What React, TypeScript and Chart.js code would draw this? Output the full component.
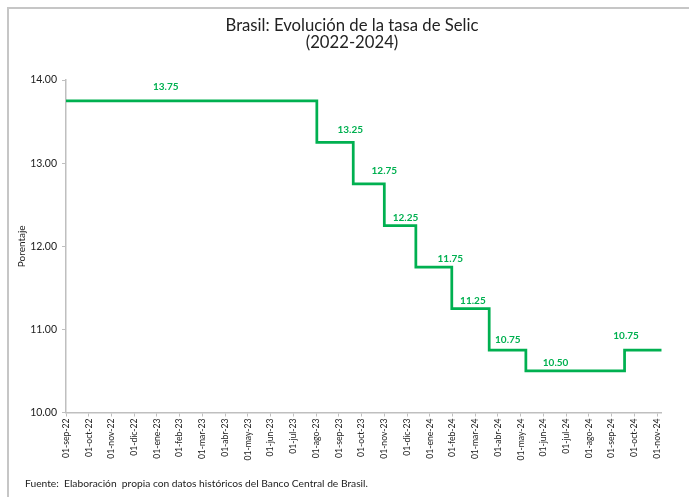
import { useEffect, useRef } from "react";
import { Chart, registerables } from "chart.js";

Chart.register(...registerables);

// Monthly axis labels (first day of each month)
const tickLabels = [
  "01-sep-22", "01-oct-22", "01-nov-22", "01-dic-22", "01-ene-23", "01-feb-23",
  "01-mar-23", "01-abr-23", "01-may-23", "01-jun-23", "01-jul-23", "01-ago-23",
  "01-sep-23", "01-oct-23", "01-nov-23", "01-dic-23", "01-ene-24", "01-feb-24",
  "01-mar-24", "01-abr-24", "01-may-24", "01-jun-24", "01-jul-24", "01-ago-24",
  "01-sep-24", "01-oct-24", "01-nov-24",
];

// Dates on which a new Selic rate took effect, and the rate from that date
const changeDates = [
  "2022-09-01", "2023-08-02", "2023-09-20", "2023-11-01", "2023-12-13",
  "2024-01-31", "2024-03-20", "2024-05-08", "2024-09-18",
];
const selicRates = [13.75, 13.25, 12.75, 12.25, 11.75, 11.25, 10.75, 10.5, 10.75];

// Last day covered by the series
const seriesEnd = "2024-11-07";

// Where each rate's value label sits along the time axis
const labelDates = [
  "2023-01-13", "2023-09-16", "2023-11-01", "2023-11-29", "2024-01-29",
  "2024-02-27", "2024-04-14", "2024-06-17", "2024-09-20",
];

const title = ["Brasil: Evolución de la tasa de Selic", "(2022-2024)"];
const yTitle = "Porentaje";
const source = "Fuente:  Elaboración  propia con datos históricos del Banco Central de Brasil.";

// ---- styling ----
const GREEN = "#00b050";
const TEXT = "#222222";
const AXIS = "#bfbfbf";
const FONT = "Lato, 'Open Sans', sans-serif";
const labelLift = [14, 13, 13, 8, 8, 8, 10, 8, 14];

// Month offset from September 2022, fractional within the month
function monthPos(iso: string): number {
  const [yy, mm, dd] = iso.split("-").map(Number);
  const daysInMonth = new Date(yy, mm, 0).getDate();
  return (yy - 2022) * 12 + (mm - 9) + (dd - 1) / daysInMonth;
}

const rateLabels = {
  id: "rateLabels",
  afterDatasetsDraw(chart: any) {
    const { ctx, scales } = chart;
    const xs = scales.x;
    const ys = scales.y;
    ctx.save();
    ctx.font = `bold 10px ${FONT}`;
    ctx.fillStyle = GREEN;
    ctx.textAlign = "center";
    ctx.textBaseline = "middle";
    selicRates.forEach((r, i) => {
      ctx.fillText(
        r.toFixed(2),
        xs.getPixelForValue(monthPos(labelDates[i])),
        ys.getPixelForValue(r) - labelLift[i]
      );
    });
    ctx.restore();
  },
};

export default function App() {
  const canvasRef = useRef<HTMLCanvasElement | null>(null);

  useEffect(() => {
    let chart: Chart | null = null;
    let cancelled = false;

    const build = () => {
      if (cancelled || !canvasRef.current) return;
      const points = changeDates.map((d, i) => ({ x: monthPos(d), y: selicRates[i] }));
      points.push({ x: monthPos(seriesEnd), y: selicRates[selicRates.length - 1] });

      chart = new Chart(canvasRef.current, {
        type: "line",
        data: {
          datasets: [
            {
              data: points,
              borderColor: GREEN,
              borderWidth: 2.75,
              stepped: "before",
              pointRadius: 0,
              fill: false,
              yAxisID: "y",
            },
          ],
        },
        options: {
          animation: false,
          responsive: false,
          devicePixelRatio: 1,
          layout: { padding: { left: 16, right: 1, top: 0, bottom: 0 } },
          plugins: {
            legend: { display: false },
            tooltip: { enabled: false },
            title: {
              display: true,
              text: title,
              color: TEXT,
              font: { family: FONT, size: 16.7, weight: "normal", lineHeight: 0.99 },
              padding: { top: 17.75, bottom: 29.25 },
            },
          },
          scales: {
            x: {
              type: "linear",
              min: 0,
              max: monthPos(seriesEnd),
              afterBuildTicks: (axis: any) => {
                axis.ticks = tickLabels.map((_, i) => ({ value: i }));
              },
              afterFit: (axis: any) => {
                axis.height = 89.5;
              },
              grid: {
                display: true,
                drawOnChartArea: false,
                drawTicks: true,
                tickLength: 4,
                color: AXIS,
              },
              border: { display: true, color: AXIS, width: 1.5 },
              ticks: {
                autoSkip: false,
                minRotation: 90,
                maxRotation: 90,
                padding: 2,
                color: TEXT,
                font: { family: FONT, size: 8.6 },
                callback: (_v: any, i: number) => tickLabels[i],
              },
            },
            y: {
              type: "linear",
              position: "left",
              min: 10,
              max: 14,
              afterFit: (axis: any) => {
                axis.width = 50;
              },
              grid: {
                display: true,
                drawOnChartArea: false,
                drawTicks: true,
                tickLength: 4,
                color: AXIS,
              },
              border: { display: true, color: AXIS, width: 1.5 },
              ticks: {
                stepSize: 1,
                padding: 5,
                color: TEXT,
                font: { family: FONT, size: 10.5 },
                callback: (v: any) => Number(v).toFixed(2),
              },
              title: {
                display: true,
                text: yTitle,
                color: TEXT,
                font: { family: FONT, size: 10 },
                padding: { top: 0, bottom: 0 },
              },
            },
            yRight: {
              type: "linear",
              position: "right",
              min: 10,
              max: 14,
              afterFit: (axis: any) => {
                axis.width = 26.3;
              },
              grid: { display: false },
              border: { display: false },
              ticks: { display: false },
            },
          },
        },
        plugins: [rateLabels],
      } as any);
    };

    const fonts = (document as any).fonts;
    if (fonts && fonts.load) {
      Promise.all([
        fonts.load(`16px Lato`),
        fonts.load(`bold 10px Lato`),
      ]).then(build, build);
    } else {
      build();
    }

    return () => {
      cancelled = true;
      if (chart) chart.destroy();
    };
  }, []);

  return (
    <div
      style={{
        position: "fixed",
        left: 0,
        top: 0,
        width: 689,
        height: 502,
        background: "#ffffff",
        overflow: "hidden",
      }}
    >
      <div
        style={{
          position: "absolute",
          left: 7,
          top: 7,
          width: 682,
          height: 490,
          borderTop: "2px solid #c6c6c6",
          borderLeft: "2px solid #c6c6c6",
          boxSizing: "border-box",
        }}
      />
      <canvas
        ref={canvasRef}
        width={689}
        height={502}
        style={{ position: "absolute", left: 0, top: 0 }}
      />
      <div
        style={{
          position: "absolute",
          left: 25,
          top: 476,
          fontFamily: FONT,
          fontSize: 10.25,
          lineHeight: "14px",
          color: TEXT,
          whiteSpace: "pre",
        }}
      >
        {source}
      </div>
    </div>
  );
}
